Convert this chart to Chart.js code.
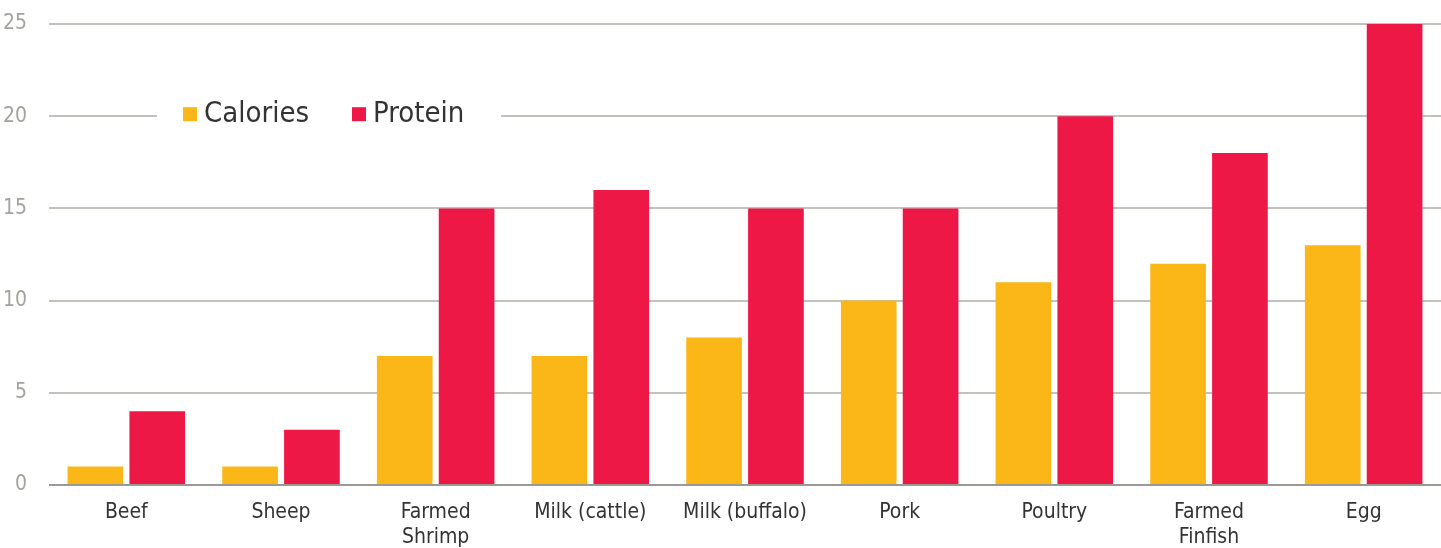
<!DOCTYPE html>
<html>
<head>
<meta charset="utf-8">
<script src="https://cdn.jsdelivr.net/npm/chart.js@4/dist/chart.umd.min.js"></script>
<style>
  html, body { margin: 0; padding: 0; background: #fff; }
  #wrap { width: 1441px; height: 548px; position: relative; }
</style>
</head>
<body>
<div id="wrap"><canvas id="chart"></canvas></div>
<script>

const FONT = "'Liberation Sans Narrow', 'DejaVu Sans Condensed', 'Roboto Condensed', sans-serif";

const foods = [
    "Beef", "Sheep", ["Farmed", "Shrimp"], "Milk (cattle)", "Milk (buffalo)",
    "Pork", "Poultry", ["Farmed", "Finfish"], "Egg"
];
const calories = [1, 1, 7, 7, 8, 10, 11, 12, 13];
const protein = [4, 3, 15, 16, 15, 15, 20, 18, 25];

const yTicks = [0, 5, 10, 15, 20, 25];

// legend sits inside the plot, on a white patch over the 20 gridline
const insideLegend = {
    id: "insideLegend",
    afterDatasetsDraw(chart) {
        const c = chart.ctx;
        const y = chart.scales.y.getPixelForValue(20);
        c.save();
        c.fillStyle = "#fff";
        c.fillRect(157, y - 20, 344, 40);
        c.font = "29px " + FONT;
        c.textBaseline = "middle";
        let x = 183;
        chart.data.datasets.forEach((ds, i) => {
            c.fillStyle = ds.backgroundColor;
            c.fillRect(x, y - 9, 14, 14);
            c.fillStyle = "#333";
            c.fillText(ds.label, x + 21, y - 2);
            x = 352;
        });
        c.restore();
    }
};

const ctx = document.getElementById("chart").getContext("2d");

new Chart(ctx, {
    type: "bar",
    data: {
        labels: foods,
        datasets: [{
            label: "Calories",
            data: calories,
            backgroundColor: "#fbb717"
        }, {
            label: "Protein",
            data: protein,
            backgroundColor: "#ee1847"
        }]
    },
    options: {
        responsive: true,
        maintainAspectRatio: false,
        animation: false,
        devicePixelRatio: 1,
        layout: { padding: { top: 24, right: 0, left: 0, bottom: 0 } },
        datasets: {
            bar: { categoryPercentage: 0.8, barPercentage: 0.9 }
        },
        plugins: {
            legend: { display: false },
            tooltip: { enabled: false }
        },
        scales: {
            x: {
                grid: { display: false },
                border: { display: false },
                ticks: {
                    color: "#333",
                    font: { family: FONT, size: 21 },
                    padding: 7,
                    maxRotation: 0,
                    autoSkip: false
                },
                afterFit(scale) { scale.height = 63; }
            },
            y: {
                min: 0,
                max: 25,
                afterBuildTicks(scale) {
                    scale.ticks = yTicks.map(v => ({ value: v }));
                },
                grid: {
                    color: ctx => ctx.tick && ctx.tick.value === 0 ? "#9a9a94" : "#c2c2bc",
                    lineWidth: 2,
                    drawTicks: false
                },
                border: { display: false },
                ticks: {
                    color: "#a3a39d",
                    font: { family: FONT, size: 21 },
                    padding: 22
                },
                afterFit(scale) {
                    scale.width = 49;
                    scale.paddingTop = 0;
                    scale.paddingBottom = 0;
                }
            }
        }
    },
    plugins: [insideLegend]
});

</script>
</body>
</html>
